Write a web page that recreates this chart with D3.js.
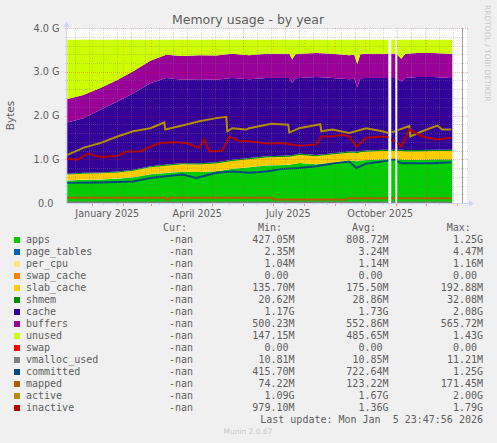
<!DOCTYPE html>
<html>
<head>
<meta charset="utf-8">
<title>Memory usage - by year</title>
<script src="https://cdn.jsdelivr.net/npm/d3@7/dist/d3.min.js"></script>
<style>
  html, body { margin: 0; padding: 0; background: #f0f0f0; }
  svg { display: block; }
</style>
</head>
<body>
<div id="memory-chart"></div>
<script>
/* DATA (values in GiB) ***************************************************************/

// sample dates of the stacked areas (null values = no data)
var dates = ["2024-12-07","2024-12-23","2025-01-09","2025-01-26","2025-02-11","2025-02-28","2025-03-16",
             "2025-04-01","2025-04-18","2025-05-05","2025-05-21","2025-06-07","2025-06-24","2025-07-10",
             "2025-07-17","2025-07-20","2025-07-23","2025-07-27","2025-08-13","2025-08-29","2025-09-15",
             "2025-09-20","2025-09-23","2025-09-26","2025-10-02","2025-10-18","2025-10-24","2025-10-25",
             "2025-10-27","2025-10-31","2025-11-01","2025-11-02","2025-11-06","2025-11-10","2025-11-22",
             "2025-12-08","2025-12-25","2025-12-27"];

var apps       = [.511,.531,.537,.554,.585,.653,.685,.709,.706,.723,.779,.817,.854,.864,.874,.886,.894,.913,.882,.921,.960,
                  .960,.951,.969,.978,.997,.997,null,.997,.997,null,.998,.998,.987,.987,.997,.997,.997];
var pageTables = [.003,.003,.003,.003,.003,.003,.003,.003,.003,.003,.003,.003,.003,.003,.003,.003,.003,.003,.003,.003,.003,
                  .003,.003,.003,.003,.003,.003,null,.003,.003,null,.003,.003,.003,.003,.003,.003,.003];
var perCpu     = [.001,.001,.001,.001,.001,.001,.001,.001,.001,.001,.001,.001,.001,.001,.001,.001,.001,.001,.001,.001,.001,
                  .001,.001,.001,.001,.001,.001,null,.001,.001,null,.001,.001,.001,.001,.001,.001,.001];
var swapCache  = [0,0,0,0,0,0,0,0,0,0,0,0,0,0,0,0,0,0,0,0,0,
                  0,0,0,0,0,0,null,0,0,null,0,0,0,0,0,0,0];
var slabCache  = [.135,.135,.138,.140,.148,.158,.165,.170,.172,.175,.178,.180,.182,.182,.182,.180,.182,.183,.184,.185,.186,
                  .186,.185,.186,.187,.188,.188,null,.188,.188,null,.187,.187,.188,.188,.188,.188,.188];
var shmem      = [.020,.020,.021,.022,.023,.025,.026,.027,.028,.028,.029,.029,.030,.030,.030,.030,.030,.030,.030,.030,.030,
                  .030,.030,.031,.031,.031,.031,null,.031,.031,null,.031,.031,.031,.031,.031,.031,.031];
var cache      = [1.17,1.25,1.43,1.60,1.75,1.90,1.98,1.91,1.92,1.89,1.87,1.80,1.79,1.78,1.77,1.64,1.74,1.73,1.78,1.72,1.65,
                  1.66,1.48,1.66,1.66,1.64,1.64,null,1.64,1.64,null,1.62,1.56,1.65,1.67,1.66,1.64,1.64];
var buffers    = [.54,.53,.50,.49,.50,.51,.53,.54,.55,.55,.55,.55,.55,.55,.55,.54,.55,.55,.55,.55,.55,
                  .55,.52,.55,.55,.55,.55,null,.55,.55,null,.55,.52,.55,.55,.55,.55,.55];
var unused     = [1.35,1.26,1.10,.92,.72,.48,.34,.37,.35,.36,.32,.35,.32,.32,.32,.45,.33,.32,.30,.32,.35,
                  .34,.56,.33,.32,.32,.32,null,.32,.32,null,.34,.43,.32,.30,.30,.32,.32];
var swap       = [0,0,0,0,0,0,0,0,0,0,0,0,0,0,0,0,0,0,0,0,0,
                  0,0,0,0,0,0,null,0,0,null,0,0,0,0,0,0,0];

// line series
var vmallocDates = ["2024-12-07","2025-10-24","2025-10-25","2025-10-27","2025-10-31","2025-11-01","2025-11-02","2025-12-26"];
var vmallocUsed  = [.0106,.0106,null,.0106,.0106,null,.0106,.0106];

var committedDates = ["2024-12-07","2025-01-09","2025-02-11","2025-02-28","2025-03-16","2025-04-01","2025-04-15","2025-05-05",
                      "2025-05-21","2025-06-07","2025-06-24","2025-07-10","2025-07-27","2025-08-13","2025-08-29","2025-09-15",
                      "2025-09-22","2025-10-02","2025-10-18","2025-10-24","2025-10-25","2025-10-27","2025-10-31","2025-11-01",
                      "2025-11-02","2025-11-06","2025-11-22","2025-12-08","2025-12-26"];
var committed = [.46,.47,.49,.57,.61,.65,.57,.69,.72,.69,.72,.78,.80,.84,.90,.95,.80,.90,.95,.97,null,.99,.99,null,.95,.91,.91,.91,.93];

var mappedDates = ["2024-12-07","2025-03-15","2025-03-16","2025-03-18","2025-03-19","2025-06-30","2025-07-01","2025-09-12",
                   "2025-09-13","2025-10-24","2025-10-25","2025-10-27","2025-10-31","2025-11-01","2025-11-02","2025-12-26"];
var mapped = [.12,.12,.08,.08,.12,.12,.08,.08,.11,.11,null,.11,.11,null,.11,.11];

var activeDates = ["2024-12-07","2024-12-23","2025-01-09","2025-01-26","2025-02-11","2025-02-28","2025-03-14","2025-03-15",
                   "2025-04-01","2025-04-18","2025-05-05","2025-05-15","2025-05-16","2025-05-21","2025-06-04","2025-06-07",
                   "2025-06-29","2025-07-16","2025-07-17","2025-07-27","2025-08-17","2025-08-18","2025-08-29","2025-09-15",
                   "2025-10-02","2025-10-18","2025-10-24","2025-10-25","2025-10-27","2025-10-31","2025-11-01","2025-11-02",
                   "2025-11-14","2025-11-15","2025-11-27","2025-12-12","2025-12-17","2025-12-26"];
var active = [1.10,1.26,1.37,1.52,1.64,1.71,1.84,1.68,1.77,1.87,1.94,1.97,1.64,1.71,1.68,1.71,1.81,1.79,1.61,1.71,1.80,1.64,
              1.68,1.60,1.71,1.64,1.60,null,1.62,1.64,null,1.66,1.76,1.52,1.64,1.77,1.68,1.68];

var inactiveDates = ["2024-12-07","2024-12-17","2024-12-27","2025-01-09","2025-01-26","2025-02-05","2025-02-18","2025-02-28",
                     "2025-03-10","2025-03-23","2025-04-05","2025-04-18","2025-04-23","2025-04-28","2025-05-11","2025-05-18",
                     "2025-05-28","2025-06-07","2025-06-24","2025-07-10","2025-07-27","2025-08-13","2025-08-18","2025-08-29",
                     "2025-09-08","2025-09-15","2025-09-22","2025-10-02","2025-10-18","2025-10-24","2025-10-25","2025-10-27",
                     "2025-10-31","2025-11-01","2025-11-02","2025-11-06","2025-11-14","2025-11-27","2025-12-11","2025-12-26"];
var inactive = [1.01,.99,1.13,1.05,1.08,1.18,1.18,1.29,1.37,1.39,1.37,1.26,1.45,1.18,1.20,1.52,1.41,1.41,1.36,1.37,1.31,1.34,
                1.52,1.52,1.56,1.52,1.29,1.49,1.52,1.50,null,1.45,1.41,null,1.38,1.29,1.68,1.52,1.45,1.49];

// legend
var legendNames  = ["apps","page_tables","per_cpu","swap_cache","slab_cache","shmem","cache","buffers","unused","swap",
                    "vmalloc_used","committed","mapped","active","inactive"];
var legendColors = ["#00CC00","#0066B3","#FFE680","#FF8000","#FFCC00","#008F00","#330099","#990099","#CCFF00","#FF0000",
                    "#808080","#00487D","#B35A00","#B38F00","#B30000"];
var curValues = ["-nan","-nan","-nan","-nan","-nan","-nan","-nan","-nan","-nan","-nan","-nan","-nan","-nan","-nan","-nan"];
var minValues = ["427.05M","2.35M","1.04M","0.00 ","135.70M","20.62M","1.17G","500.23M","147.15M","0.00 ",
                 "10.81M","415.70M","74.22M","1.09G","979.10M"];
var avgValues = ["808.72M","3.24M","1.14M","0.00 ","175.50M","28.86M","1.73G","552.86M","485.65M","0.00 ",
                 "10.85M","722.64M","123.22M","1.67G","1.36G"];
var maxValues = ["1.25G","4.47M","1.16M","0.00 ","192.88M","32.08M","2.08G","565.72M","1.43G","0.00 ",
                 "11.21M","1.25G","171.45M","2.00G","1.79G"];

// axis labels
var yTicks = [0, 1, 2, 3, 4];
var yTickLabels = ["0.0", "1.0 G", "2.0 G", "3.0 G", "4.0 G"];
var xLabelMonths = ["2025-01-01", "2025-04-01", "2025-07-01", "2025-10-01"];
var xTickLabels = ["January 2025", "April 2025", "July 2025", "October 2025"];

/* SETTINGS ***************************************************************************/

var width = 497, height = 443;
var plotLeft = 67, plotRight = 467, plotTop = 28, plotBottom = 203;
var sans = "'DejaVu Sans', sans-serif";
var mono = "'DejaVu Sans Mono', monospace";
var fontColor = "#5e5e5e";
var axisColor = "#CFD6F8";
var gridColor = "rgba(128,128,128,0.3)";
var mgridColor = "rgba(255,0,0,0.2)";

var parse = d3.timeParse("%Y-%m-%d");
// keep runs of spaces in the monospace legend
var keepSpaces = function(s) { return s.replace(/ /g, "\u00a0"); };

var x = d3.scaleTime()
    .domain([new Date(2024, 11, 6, 17, 0), new Date(2026, 0, 10, 17, 0)])
    .range([plotLeft, plotRight]);
var y = d3.scaleLinear().domain([0, 4]).range([plotBottom, plotTop]);

/* SVG ********************************************************************************/

var svg = d3.select("#memory-chart")
    .append("svg")
    .attr("width", width)
    .attr("height", height)
    .style("background-color", "#f0f0f0");

// canvas
svg.append("rect")
    .attr("x", plotLeft).attr("y", plotTop)
    .attr("width", plotRight - plotLeft).attr("height", plotBottom - plotTop)
    .attr("fill", "#ffffff");

// stacked areas
var layerKeys = ["apps","page_tables","per_cpu","swap_cache","slab_cache","shmem","cache","buffers","unused","swap"];
var layerValues = [apps, pageTables, perCpu, swapCache, slabCache, shmem, cache, buffers, unused, swap];

var table = dates.map(function(d, i) {
    var row = { date: parse(d) };
    layerKeys.forEach(function(k, j) { row[k] = layerValues[j][i]; });
    return row;
});

var stack = d3.stack()
    .keys(layerKeys)
    .value(function(d, k) { return d[k] == null ? 0 : d[k]; });

var area = d3.area()
    .defined(function(d) { return d.data.apps != null; })
    .x(function(d) { return x(d.data.date); })
    .y0(function(d) { return y(d[0]); })
    .y1(function(d) { return y(d[1]); });

svg.append("g")
    .selectAll("path")
    .data(stack(table))
    .enter().append("path")
    .attr("d", area)
    .attr("fill", function(d) { return legendColors[legendNames.indexOf(d.key)]; });

// lines
var lineSeries = [
    { name: "vmalloc_used", dates: vmallocDates, values: vmallocUsed },
    { name: "committed", dates: committedDates, values: committed },
    { name: "mapped", dates: mappedDates, values: mapped },
    { name: "active", dates: activeDates, values: active },
    { name: "inactive", dates: inactiveDates, values: inactive }
];

var line = d3.line()
    .defined(function(d) { return d.v != null; })
    .x(function(d) { return x(d.t); })
    .y(function(d) { return y(d.v); });

svg.append("g")
    .selectAll("path")
    .data(lineSeries)
    .enter().append("path")
    .attr("d", function(s) {
        return line(s.dates.map(function(d, i) { return { t: parse(d), v: s.values[i] }; }));
    })
    .attr("fill", "none")
    .attr("stroke-width", 2)
    .attr("stroke", function(s) { return legendColors[legendNames.indexOf(s.name)]; });

// grid (drawn over the graph, like rrdtool)
var grid = svg.append("g").attr("shape-rendering", "crispEdges");
var start = x.domain()[0], end = x.domain()[1];

var minorY = d3.range(1, 20).map(function(i) { return i * 0.2; })
    .filter(function(v) { return Math.abs(v - Math.round(v)) > 0.01; });
grid.selectAll(".hminor").data(minorY).enter().append("line")
    .attr("x1", plotLeft - 2).attr("x2", plotRight + 2)
    .attr("y1", function(v) { return Math.round(y(v)) + 0.5; })
    .attr("y2", function(v) { return Math.round(y(v)) + 0.5; })
    .attr("stroke", gridColor).attr("stroke-dasharray", "1,1");

var minorX = d3.timeDay.range(new Date(2024, 11, 15), end, 14);
grid.selectAll(".vminor").data(minorX).enter().append("line")
    .attr("x1", function(d) { return Math.round(x(d)) + 0.5; })
    .attr("x2", function(d) { return Math.round(x(d)) + 0.5; })
    .attr("y1", plotTop).attr("y2", plotBottom + 2)
    .attr("stroke", gridColor).attr("stroke-dasharray", "1,1");

grid.selectAll(".hmajor").data(yTicks.slice(1)).enter().append("line")
    .attr("x1", plotLeft - 2).attr("x2", plotRight + 2)
    .attr("y1", function(v) { return Math.round(y(v)) + 0.5; })
    .attr("y2", function(v) { return Math.round(y(v)) + 0.5; })
    .attr("stroke", "rgba(255,0,0,0.3)").attr("stroke-dasharray", "1,1");

var majorX = d3.timeMonth.range(start, end);
grid.selectAll(".vmajor").data(majorX).enter().append("line")
    .attr("x1", function(d) { return Math.round(x(d)) + 0.5; })
    .attr("x2", function(d) { return Math.round(x(d)) + 0.5; })
    .attr("y1", plotTop).attr("y2", plotBottom)
    .attr("stroke", mgridColor).attr("stroke-dasharray", "1,2");

// solid tick marks on the x axis
grid.selectAll(".tmajor").data(majorX).enter().append("line")
    .attr("x1", function(d) { return Math.round(x(d)) + 0.5; })
    .attr("x2", function(d) { return Math.round(x(d)) + 0.5; })
    .attr("y1", plotBottom).attr("y2", plotBottom + 3)
    .attr("stroke", "rgba(255,0,0,0.4)");

// last update marker
svg.append("line")
    .attr("x1", Math.round(x(new Date(2026, 0, 5, 23, 47))) + 0.5)
    .attr("x2", Math.round(x(new Date(2026, 0, 5, 23, 47))) + 0.5)
    .attr("y1", plotTop).attr("y2", plotBottom)
    .attr("stroke", "#a0a0a0").attr("shape-rendering", "crispEdges");

// axes with arrows
svg.append("line")
    .attr("x1", plotLeft - 0.5).attr("x2", plotRight + 3)
    .attr("y1", plotBottom + 0.5).attr("y2", plotBottom + 0.5)
    .attr("stroke", axisColor).attr("shape-rendering", "crispEdges");
svg.append("line")
    .attr("x1", plotLeft - 0.5).attr("x2", plotLeft - 0.5)
    .attr("y1", plotBottom + 0.5).attr("y2", plotTop - 4)
    .attr("stroke", axisColor).attr("shape-rendering", "crispEdges");
svg.append("path")
    .attr("d", "M" + (plotRight + 2) + "," + (plotBottom - 2.5) + "L" + (plotRight + 7) + "," + (plotBottom + 0.5) +
               "L" + (plotRight + 2) + "," + (plotBottom + 3.5) + "Z")
    .attr("fill", axisColor);
svg.append("path")
    .attr("d", "M" + (plotLeft - 3.5) + "," + (plotTop - 1) + "L" + (plotLeft - 0.5) + "," + (plotTop - 6.5) +
               "L" + (plotLeft + 2.5) + "," + (plotTop - 1) + "Z")
    .attr("fill", axisColor);

// y tick labels
svg.append("g")
    .selectAll("text")
    .data(yTicks)
    .enter().append("text")
    .attr("x", function(v, i) { return i === 0 ? 53.5 : 59.5; })
    .attr("y", function(v) { return y(v) + 3.5; })
    .attr("text-anchor", "end")
    .attr("font-family", sans).attr("font-size", 9.7).attr("fill", fontColor)
    .text(function(v, i) { return yTickLabels[i]; });

// x tick labels, centred half a month after the month start
svg.append("g")
    .selectAll("text")
    .data(xLabelMonths)
    .enter().append("text")
    .attr("x", function(d) { return x(d3.timeDay.offset(parse(d), 15)); })
    .attr("y", 216.5)
    .attr("text-anchor", "middle")
    .attr("font-family", sans).attr("font-size", 9.6).attr("fill", fontColor)
    .text(function(d, i) { return xTickLabels[i]; });

// title
svg.append("text")
    .attr("x", 248).attr("y", 24)
    .attr("text-anchor", "middle")
    .attr("font-family", sans).attr("font-size", 12.5).attr("fill", fontColor)
    .text("Memory usage - by year");

// vertical axis title
svg.append("text")
    .attr("transform", "translate(13.5," + y(2) + ") rotate(-90)")
    .attr("text-anchor", "middle")
    .attr("font-family", sans).attr("font-size", 10.5).attr("fill", fontColor)
    .text("Bytes");

// watermark
svg.append("text")
    .attr("transform", "translate(485,5) rotate(90)")
    .attr("font-family", sans).attr("font-size", 7.5).attr("fill", "#c8c8c8")
    .text("RRDTOOL / TOBI OETIKER");

/* LEGEND *****************************************************************************/

var legend = svg.append("g")
    .attr("font-family", mono).attr("font-size", 10).attr("fill", fontColor);

var headerY = 230.5;
[["Cur:", 163], ["Min:", 258], ["Avg:", 352], ["Max:", 446.7]].forEach(function(h) {
    legend.append("text").attr("x", h[1]).attr("y", headerY).text(h[0]);
});

var rows = legend.selectAll(".row")
    .data(legendNames)
    .enter().append("g")
    .attr("transform", function(d, i) { return "translate(0," + (242.5 + i * 12) + ")"; });

rows.append("rect")
    .attr("x", 14).attr("y", -5.5).attr("width", 6).attr("height", 6)
    .attr("fill", function(d, i) { return legendColors[i]; });
rows.append("text").attr("x", 26).text(function(d) { return d; });
rows.append("text").attr("x", 193).attr("text-anchor", "end").text(function(d, i) { return keepSpaces(curValues[i]); });
rows.append("text").attr("x", 294.5).attr("text-anchor", "end").text(function(d, i) { return keepSpaces(minValues[i]); });
rows.append("text").attr("x", 388.5).attr("text-anchor", "end").text(function(d, i) { return keepSpaces(avgValues[i]); });
rows.append("text").attr("x", 483).attr("text-anchor", "end").text(function(d, i) { return keepSpaces(maxValues[i]); });

legend.append("text")
    .attr("x", 483).attr("y", 242.5 + 15 * 12)
    .attr("text-anchor", "end")
    .text(keepSpaces("Last update: Mon Jan  5 23:47:56 2026"));

svg.append("text")
    .attr("x", 248).attr("y", 433.5)
    .attr("text-anchor", "middle")
    .attr("font-family", sans).attr("font-size", 7.5).attr("fill", "#c8c8c8")
    .text("Munin 2.0.67");
</script>
</body>
</html>
